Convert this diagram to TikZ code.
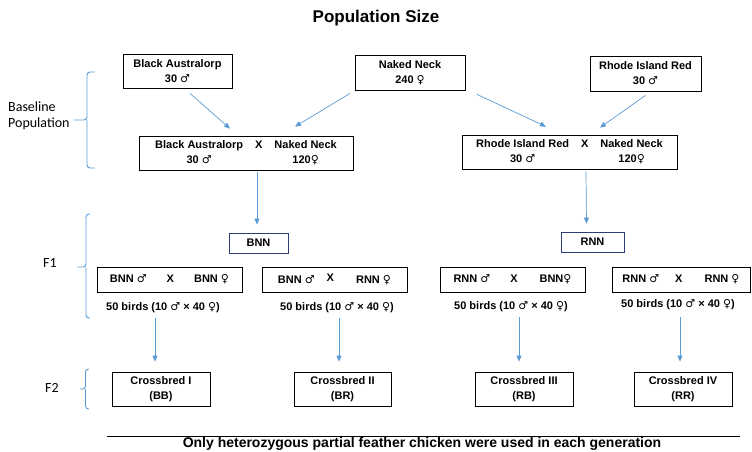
\documentclass[tikz,border=0pt]{standalone}
\usepackage{fontspec}
\setmainfont{Liberation Sans}
\newfontfamily\lblfont{Carlito}
\newfontfamily\symfont{DejaVu Sans}
\usetikzlibrary{arrows.meta,calc}
\definecolor{arrowblue}{RGB}{91,155,213}
\definecolor{navy}{RGB}{47,60,120}
\newcommand{\ml}{{\symfont\bfseries ♂}}
\newcommand{\fm}{{\symfont\bfseries ♀}}

\begin{document}
\begin{tikzpicture}[x=1pt,y=-1pt,
    box/.style={draw, line width=0.8pt, inner sep=0pt, align=center,
        font=\bfseries\fontsize{11}{15}\selectfont},
    txt/.style={inner sep=1pt, font=\bfseries\fontsize{11}{15}\selectfont},
    lbl/.style={inner sep=0pt, font=\lblfont\fontsize{14}{16}\selectfont},
    arr/.style={draw=arrowblue, line width=0.7pt, -{Triangle[length=6pt,width=5pt]}},
    brc/.style={draw=arrowblue, line width=0.9pt, rounded corners=3pt}]
    \useasboundingbox (0,0) rectangle (752,452);
    \node[font=\bfseries\fontsize{17}{20}\selectfont] (title) at (376,18) {Population Size};

    % baseline population
    \node[box, minimum width=109pt, minimum height=34pt] (ba) at (177.5,71) {Black Australorp\\30 \ml};
    \node[box, minimum width=110pt, minimum height=35pt] (nn) at (410,72.5) {Naked Neck\\240 \fm};
    \node[box, minimum width=111pt, minimum height=35pt] (rir) at (645.5,73.5) {Rhode Island Red\\30 \ml};
    \node[box, minimum width=214pt, minimum height=34pt] (banx) at (246,153)
        {\begin{tabular}{@{}ccc@{}}Black Australorp & X & Naked Neck\\ 30 \ml & & 120\fm\end{tabular}};
    \node[box, minimum width=215pt, minimum height=34pt] (rinx) at (569.5,152)
        {\begin{tabular}{@{}ccc@{}}Rhode Island Red & X & Naked Neck\\ 30 \ml & & 120\fm\end{tabular}};
    \draw[arr] ($(ba.south)+(12.5,5)$) -- ($(banx.north)+(-16,-7)$);
    \draw[arr] ($(nn.south)+(-60,3)$) -- ($(banx.north)+(49,-9)$);
    \draw[arr] ($(nn.south)+(67,4)$) -- ($(rinx.north)+(-23.5,-8)$);
    \draw[arr] ($(rir.south)+(0,4)$) -- ($(rinx.north)+(30.5,-7)$);

    % F1
    \node[box, draw=navy, minimum width=59pt, minimum height=20pt] (bnn) at (258.5,243) {BNN};
    \node[box, draw=navy, minimum width=63pt, minimum height=20pt] (rnn) at (592.5,242) {RNN};
    \draw[arr] ($(banx.south)+(11,2)$) -- ($(bnn.north)+(-1.5,-8)$);
    \draw[arr] ($(rinx.south)+(16.5,2)$) -- ($(rnn.north)+(-6,-8)$);

    \node[box, minimum width=145pt, minimum height=25pt] (xa) at (169.5,279.5)
        {BNN \ml\hspace{20pt}X\hspace{20pt}BNN \fm};
    \node[box, minimum width=145pt, minimum height=25pt] (xb) at (334.5,279.5)
        {BNN \ml\hspace{12pt}\raisebox{2pt}{X}\hspace{22pt}RNN \fm};
    \node[box, minimum width=145pt, minimum height=25pt] (xc) at (512.5,279.5)
        {\raisebox{2pt}{RNN \ml\hspace{20pt}X\hspace{22pt}BNN\fm}};
    \node[box, minimum width=138pt, minimum height=25pt] (xd) at (681,279.5)
        {\raisebox{2pt}{RNN \ml\hspace{16pt}X\hspace{22pt}RNN \fm}};
    \node[txt] (na) at (163,308) {50 birds (10 \ml\ × 40 \fm)};
    \node[txt] (nb) at (337,308) {50 birds (10 \ml\ × 40 \fm)};
    \node[txt] (nc) at (511,307) {50 birds (10 \ml\ × 40 \fm)};
    \node[txt] (nd) at (678,305) {50 birds (10 \ml\ × 40 \fm)};

    % F2
    \node[box, minimum width=98pt, minimum height=34pt] (ca) at (161,389) {Crossbred I\\(BB)};
    \node[box, minimum width=97pt, minimum height=34pt] (cb) at (342.5,389) {Crossbred II\\(BR)};
    \node[box, minimum width=98pt, minimum height=34pt] (cc) at (524,389) {Crossbred III\\(RB)};
    \node[box, minimum width=98pt, minimum height=34pt] (cd) at (683,389) {Crossbred IV\\(RR)};
    \draw[arr] ($(na.south)+(-8,4)$) -- ($(ca.north)+(-6,-10)$);
    \draw[arr] ($(nb.south)+(2,4)$) -- ($(cb.north)+(-3.5,-10)$);
    \draw[arr] ($(nc.south)+(8,4)$) -- ($(cc.north)+(-5,-10)$);
    \draw[arr] ($(nd.south)+(2,6)$) -- ($(cd.north)+(-3,-10)$);

    % generation braces
    \draw[brc] (95,72) -| (87,120) -- (74,120) (87,120) |- (95,168);
    \draw[brc] (90,214) -| (86,267) -- (77,267) (86,267) |- (90,318);
    \draw[brc] (89,369) -| (85.5,389) -- (80,389) (85.5,389) |- (89,409);
    \node[lbl, anchor=west, align=left] (base) at (8,116) {Baseline\\Population};
    \node[lbl] (fa) at (50,263) {F1};
    \node[lbl] (fb) at (52,388) {F2};

    \draw[line width=0.8pt] (107,436) -- (740,436);
    \node[txt, font=\bfseries\fontsize{14}{16}\selectfont] (note) at (422,444)
        {Only heterozygous partial feather chicken were used in each generation};
\end{tikzpicture}
\end{document}
